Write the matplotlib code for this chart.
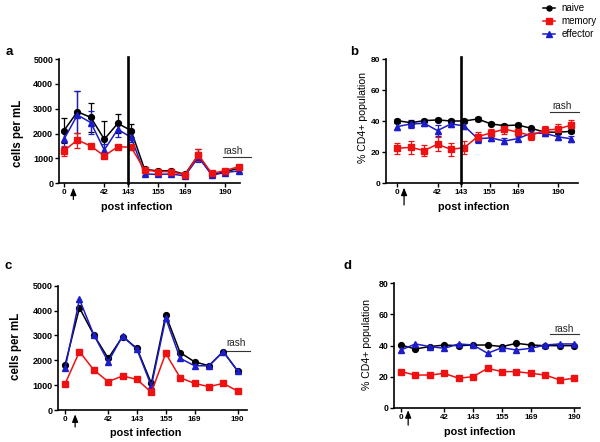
import matplotlib
matplotlib.use("Agg")
import matplotlib.pyplot as plt
from matplotlib import font_manager
import numpy as np

# ---------------- data ----------------
xtick_labels = ["0", "42", "143", "155", "169", "190"]

# panel a : cells per mL (mean +/- error)
naive_a = [2120, 2880, 2650, 1770, 2410, 2120, 560, 500, 510, 360, 1140, 335, 470, 600]
naive_a_err = [500, 850, 600, 750, 380, 250, 80, 60, 60, 50, 230, 50, 60, 80]
memory_a = [1310, 1740, 1500, 1100, 1470, 1450, 540, 470, 470, 335, 1140, 400, 510, 670]
memory_a_err = [200, 300, 100, 100, 80, 80, 60, 50, 50, 40, 250, 50, 50, 60]
effector_a = [1770, 2750, 2440, 1340, 2170, 1850, 375, 360, 375, 295, 1050, 335, 430, 500]
effector_a_err = [300, 950, 450, 250, 300, 200, 60, 50, 50, 50, 200, 50, 50, 60]

# panel b : % CD4+ population (mean +/- error)
naive_b = [40.4, 39.1, 40.4, 40.9, 40.2, 40.2, 41.5, 38.3, 37.2, 37.6, 35.5, 33.0, 33.0, 33.5]
naive_b_err = [1.2, 1.2, 1.0, 1.0, 1.0, 1.0, 1.0, 1.0, 1.0, 1.0, 1.0, 1.0, 1.0, 1.2]
memory_b = [22.6, 23.2, 21.1, 25.2, 21.9, 23.0, 30.1, 32.5, 35.0, 33.0, 30.8, 34.2, 35.0, 37.6]
memory_b_err = [3.5, 4.0, 3.5, 4.5, 4.0, 4.0, 3.0, 2.5, 3.0, 3.0, 3.0, 2.5, 3.0, 3.0]
effector_b = [36.6, 38.3, 38.7, 34.0, 38.3, 37.0, 28.8, 29.3, 27.3, 28.8, 32.3, 32.3, 30.0, 28.7]
effector_b_err = [2.0, 2.5, 1.5, 3.5, 2.0, 2.0, 2.5, 2.0, 2.0, 1.5, 2.5, 2.0, 2.0, 2.0]

# panel c : cells per mL (single animal)
naive_c = [1810, 4110, 3020, 2080, 2950, 2480, 1070, 3820, 2310, 1940, 1780, 2350, 1570]
memory_c = [1050, 2350, 1610, 1140, 1370, 1230, 710, 2280, 1300, 1070, 940, 1070, 760]
effector_c = [1670, 4450, 3020, 1940, 2980, 2440, 965, 3690, 2080, 1780, 1780, 2350, 1570]

# panel d : % CD4+ population (single animal)
naive_d = [40.3, 37.8, 39.3, 40.3, 39.9, 40.3, 40.3, 39.3, 41.4, 40.3, 39.9, 39.9, 39.9]
memory_d = [23.2, 21.0, 21.0, 22.1, 18.9, 20.0, 25.3, 23.2, 23.2, 22.1, 21.0, 17.8, 18.9]
effector_d = [37.1, 41.0, 39.3, 38.2, 41.0, 40.3, 35.0, 38.6, 37.1, 38.2, 40.3, 41.0, 41.0]

series_names = ["naive", "memory", "effector"]

# ---------------- style ----------------
available = {f.name for f in font_manager.fontManager.ttflist}
base_font = "Liberation Sans" if "Liberation Sans" in available else "DejaVu Sans"
narrow_font = "Liberation Sans Narrow" if "Liberation Sans Narrow" in available else base_font
plt.rcParams["font.family"] = [base_font, "DejaVu Sans"]

C_NAIVE = "#000000"
C_MEM = "#ee1111"
C_EFF = "#1c1cc8"
styles = {
    "naive": dict(color=C_NAIVE, marker="o", ms=4.2),
    "memory": dict(color=C_MEM, marker="s", ms=4.3),
    "effector": dict(color=C_EFF, marker="^", ms=4.6),
}

fig = plt.figure(figsize=(6.0, 4.42), dpi=100)
W, H = 600.0, 442.0


def add_ax(left, top, right, bottom):
    return fig.add_axes([left / W, 1 - bottom / H, (right - left) / W, (bottom - top) / H])


ax_a = add_ax(59, 59, 240, 183.3)
ax_b = add_ax(386, 59.3, 578, 183.3)
ax_c = add_ax(58.3, 285.7, 247, 410)
ax_d = add_ax(394.3, 283.3, 580, 407.7)


def style_axis(ax, xlim, ymax, ystep, xticks, yfs):
    for s in ["top", "right"]:
        ax.spines[s].set_visible(False)
    for s in ["left", "bottom"]:
        ax.spines[s].set_linewidth(1.2)
    ax.set_xlim(*xlim)
    ax.set_ylim(0, ymax)
    ax.set_yticks(np.arange(0, ymax + 1, ystep))
    ax.set_xticks(xticks)
    ax.set_xticklabels(xtick_labels, fontsize=5.8, family=narrow_font, fontweight="bold")
    for lab in ax.get_yticklabels():
        lab.set_fontsize(yfs)
        lab.set_fontweight("bold")
    ax.tick_params(axis="both", direction="out", length=3, width=1.0, pad=1.2)


def draw(ax, data, errs=None):
    order = ["naive", "effector", "memory"]
    for name in order:
        y = data[name]
        x = np.arange(len(y))
        st = styles[name]
        if errs is not None:
            ax.errorbar(x, y, yerr=errs[name], color=st["color"], marker=st["marker"],
                        ms=st["ms"], lw=1.1, elinewidth=0.9, capsize=2.2, capthick=0.9,
                        clip_on=False, zorder=3)
        else:
            ax.plot(x, y, color=st["color"], marker=st["marker"], ms=st["ms"], lw=1.1,
                    clip_on=False, zorder=3)


# panel a
draw(ax_a, dict(naive=naive_a, memory=memory_a, effector=effector_a),
     dict(naive=naive_a_err, memory=memory_a_err, effector=effector_a_err))
style_axis(ax_a, (-0.37, 13.1), 5000, 1000, [0, 3, 4.8, 7, 9, 12], 6.5)
ax_a.axvline(4.75, ymin=0, ymax=1.02, color="black", lw=1.9, clip_on=False, zorder=4)

# panel b
draw(ax_b, dict(naive=naive_b, memory=memory_b, effector=effector_b),
     dict(naive=naive_b_err, memory=memory_b_err, effector=effector_b_err))
style_axis(ax_b, (-0.85, 13.5), 80, 20, [0, 3, 4.76, 6.9, 9, 12], 6.0)
ax_b.axvline(4.76, ymin=0, ymax=1.02, color="black", lw=1.9, clip_on=False, zorder=4)

# panel c
draw(ax_c, dict(naive=naive_c, memory=memory_c, effector=effector_c))
style_axis(ax_c, (-0.47, 12.65), 5000, 1000, [0, 3, 5, 7, 9, 12], 6.5)

# panel d
draw(ax_d, dict(naive=naive_d, memory=memory_d, effector=effector_d))
style_axis(ax_d, (-0.46, 12.4), 80, 20, [0, 3, 5, 7, 9, 12], 6.3)

# rash annotations
rash_specs = [
    (ax_a, (11.84, 13.93), 1046, 12.6, 1300),
    (ax_b, (11.43, 13.55), 46.2, 12.3, 50.0),
    (ax_c, (10.96, 12.85), 2390, 11.9, 2680),
    (ax_d, (10.3, 12.3), 47.2, 11.3, 50.6),
]
for ax, (x0, x1), yl, xt, yt in rash_specs:
    ax.plot([x0, x1], [yl, yl], color="#333333", lw=0.8, clip_on=False)
    ax.text(xt, yt, "rash", fontsize=7.2, ha="center", va="center", color="#222222")

# infection arrows under the x axis
arrow_specs = [(ax_a, 0.7, -0.035, -0.13), (ax_b, 0.5, -0.035, -0.175),
               (ax_c, 0.7, -0.035, -0.137), (ax_d, 0.5, -0.02, -0.14)]
for ax, xa, yh, yt in arrow_specs:
    ax.annotate("", xy=(xa, yh), xytext=(xa, yt),
                xycoords=("data", "axes fraction"), textcoords=("data", "axes fraction"),
                arrowprops=dict(arrowstyle="-|>,head_length=0.45,head_width=0.18",
                                color="black", lw=0.9, shrinkA=0, shrinkB=0))

# axis titles
for (xc, yc) in [(136.7, 206.7), (473.3, 206.7), (145.7, 432.7), (480, 431.7)]:
    fig.text(xc / W, 1 - yc / H, "post infection", fontsize=7.8, fontweight="bold",
             ha="center", va="center")
for (xc, yc, txt, wt, fs) in [(18.3, 133.3, "cells per mL", "bold", 8.3),
                              (363.5, 117.3, "% CD4+ population", "normal", 7.6),
                              (16, 346.7, "cells per mL", "bold", 8.3),
                              (367, 345, "% CD4+ population", "normal", 7.6)]:
    fig.text(xc / W, 1 - yc / H, txt, fontsize=fs, fontweight=wt, rotation=90,
             ha="center", va="center")

# panel letters
for (xc, yc, t) in [(9, 52, "a"), (354, 52, "b"), (8, 266, "c"), (348, 266, "d")]:
    fig.text(xc / W, 1 - yc / H, t, fontsize=9.5, fontweight="bold", ha="center", va="center")

# legend
handles = []
for name in series_names:
    st = styles[name]
    h, = ax_a.plot([], [], color=st["color"], marker=st["marker"], ms=st["ms"] - 0.6, lw=1.1)
    handles.append(h)
fig.legend(handles, series_names, loc="upper left", bbox_to_anchor=(536 / W, 1 + 3.5 / H),
           frameon=False, fontsize=7, handlelength=1.3, handletextpad=0.6,
           labelspacing=0.3, borderpad=0.2)

fig.savefig("out.png", dpi=100)
